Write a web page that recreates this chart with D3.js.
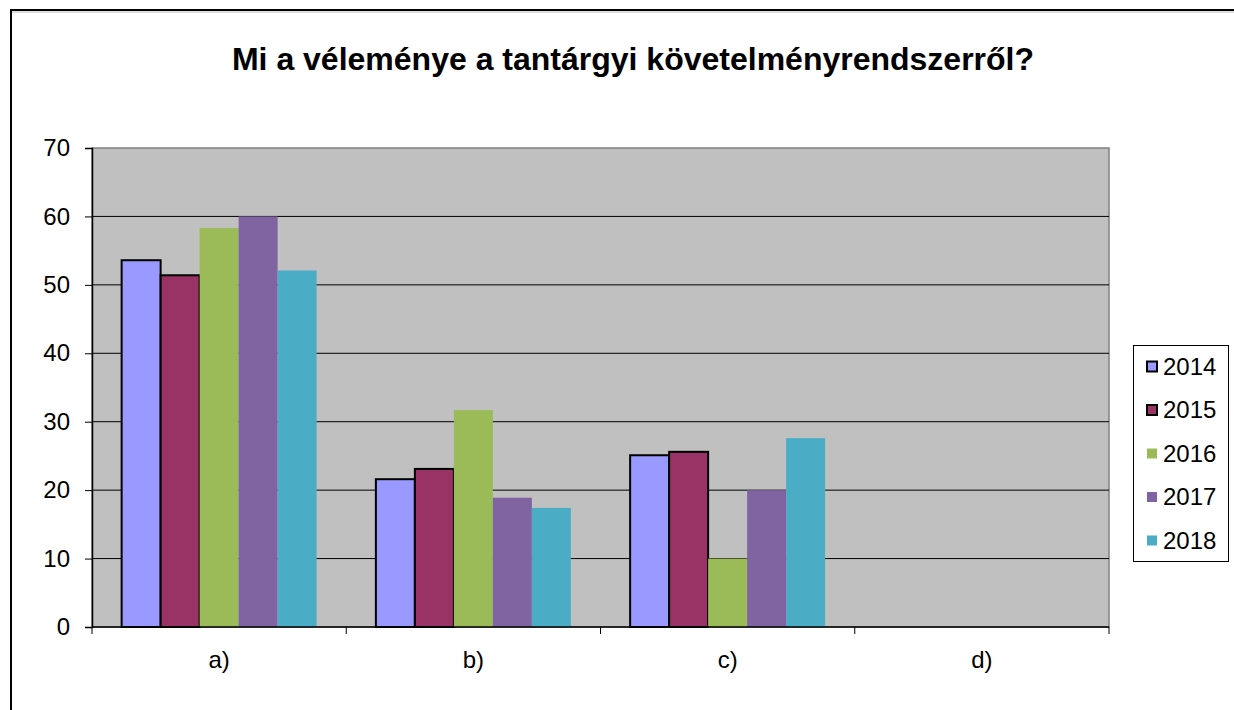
<!DOCTYPE html>
<html>
<head>
<meta charset="utf-8">
<script src="https://cdn.jsdelivr.net/npm/d3@7"></script>
<style>
  body { margin: 0; background: #fff; }
  text { font-family: "Liberation Sans", Arial, sans-serif; fill: #000; }
</style>
</head>
<body>
<div id="chart"></div>
<script>
const categories = ["a)", "b)", "c)", "d)"]
const years = ["2014", "2015", "2016", "2017", "2018"]
const values2014 = [53.6, 21.6, 25.1, 0]
const values2015 = [51.4, 23.1, 25.6, 0]
const values2016 = [58.3, 31.7, 10, 0]
const values2017 = [60, 18.9, 20, 0]
const values2018 = [52.1, 17.4, 27.6, 0]
const yTicks = [0, 10, 20, 30, 40, 50, 60, 70]

const seriesValues = [values2014, values2015, values2016, values2017, values2018]
const colors = ["#9999ff", "#993366", "#9bbb59", "#8064a2", "#4bacc6"]
const outlined = [true, true, false, false, false]

const W = 1234, H = 710
const PLOT = { LEFT: 92, RIGHT: 1109, TOP: 148, BOTTOM: 627 }

const svg = d3.select("#chart").append("svg")
    .attr("width", W)
    .attr("height", H)

// chart frame
svg.append("path")
    .attr("d", `M11,${H + 5} L11,10 L${W + 5},10`)
    .attr("fill", "none")
    .attr("stroke", "#000")
    .attr("stroke-width", 2)
svg.append("line")
    .attr("x1", 12).attr("x2", W)
    .attr("y1", 12).attr("y2", 12)
    .attr("stroke", "#bbb")

svg.append("text")
    .attr("x", 633)
    .attr("y", 70)
    .attr("text-anchor", "middle")
    .attr("font-size", "32px")
    .attr("font-weight", "bold")
    .text("Mi a véleménye a tantárgyi követelményrendszerről?")

const x0 = d3.scaleBand()
    .domain(categories)
    .range([PLOT.LEFT, PLOT.RIGHT])
    .paddingInner(0)
    .paddingOuter(0)

const x1 = d3.scaleBand()
    .domain(years)
    .range([0, x0.bandwidth()])
    .paddingOuter(0.76)
    .paddingInner(0)

const y = d3.scaleLinear()
    .domain([0, 70])
    .range([PLOT.BOTTOM, PLOT.TOP])

// plot area
svg.append("rect")
    .attr("x", PLOT.LEFT)
    .attr("y", PLOT.TOP)
    .attr("width", PLOT.RIGHT - PLOT.LEFT)
    .attr("height", PLOT.BOTTOM - PLOT.TOP)
    .attr("fill", "#c0c0c0")
    .attr("stroke", "#808080")
    .attr("stroke-width", 1.5)

// gridlines
svg.append("g")
    .selectAll("line")
    .data(yTicks.filter(t => t > 0 && t < 70))
    .enter().append("line")
    .attr("x1", PLOT.LEFT)
    .attr("x2", PLOT.RIGHT)
    .attr("y1", d => y(d))
    .attr("y2", d => y(d))
    .attr("stroke", "#000")
    .attr("stroke-width", 1)

// bars
const groups = svg.append("g")
    .selectAll("g")
    .data(years)
    .enter().append("g")

groups.each(function(yr, si) {
    d3.select(this).selectAll("rect")
        .data(seriesValues[si].map((v, ci) => ({ cat: categories[ci], v })))
        .enter().append("rect")
        .attr("x", d => x0(d.cat) + x1(yr))
        .attr("y", d => y(d.v))
        .attr("width", x1.bandwidth())
        .attr("height", d => y(0) - y(d.v))
        .attr("fill", colors[si])
        .attr("stroke", d => outlined[si] && d.v > 0 ? "#000" : "none")
        .attr("stroke-width", 2)
})

// y axis
const yAxis = svg.append("g")
    .attr("transform", `translate(${PLOT.LEFT}, 0)`)
    .call(d3.axisLeft(y).tickValues(yTicks).tickSize(7).tickPadding(15))
yAxis.select(".domain").attr("stroke", "#000").attr("stroke-width", 1.5)
yAxis.selectAll(".tick line").attr("stroke", "#000")
yAxis.selectAll(".tick text")
    .attr("font-size", "24px")
    .attr("font-family", "Liberation Sans, Arial, sans-serif")

// x axis
const xAxis = svg.append("g")
    .attr("transform", `translate(0, ${PLOT.BOTTOM})`)
xAxis.append("line")
    .attr("x1", PLOT.LEFT).attr("x2", PLOT.RIGHT)
    .attr("stroke", "#000").attr("stroke-width", 1.5)
xAxis.selectAll(".sep")
    .data(categories.concat(["end"]))
    .enter().append("line")
    .attr("x1", (d, i) => i < categories.length ? x0(d) : PLOT.RIGHT)
    .attr("x2", (d, i) => i < categories.length ? x0(d) : PLOT.RIGHT)
    .attr("y1", 0).attr("y2", 7)
    .attr("stroke", "#000")
xAxis.selectAll(".lbl")
    .data(categories)
    .enter().append("text")
    .attr("x", d => x0(d) + x0.bandwidth() / 2)
    .attr("y", 41)
    .attr("text-anchor", "middle")
    .attr("font-size", "24px")
    .text(d => d)

// legend
const legend = svg.append("g")
legend.append("rect")
    .attr("x", 1133.5).attr("y", 345.5)
    .attr("width", 95).attr("height", 216)
    .attr("fill", "#fff")
    .attr("stroke", "#000")
    .attr("stroke-width", 1)
const item = legend.selectAll(".item")
    .data(years)
    .enter().append("g")
    .attr("transform", (d, i) => `translate(1147, ${366.5 + i * 43.5})`)
item.append("rect")
    .attr("x", 0).attr("y", -5)
    .attr("width", 10).attr("height", 10)
    .attr("fill", (d, i) => colors[i])
    .attr("stroke", (d, i) => outlined[i] ? "#000" : "none")
    .attr("stroke-width", 2)
item.append("text")
    .attr("x", 16)
    .attr("y", 8)
    .attr("font-size", "24px")
    .text(d => d)
</script>
</body>
</html>
